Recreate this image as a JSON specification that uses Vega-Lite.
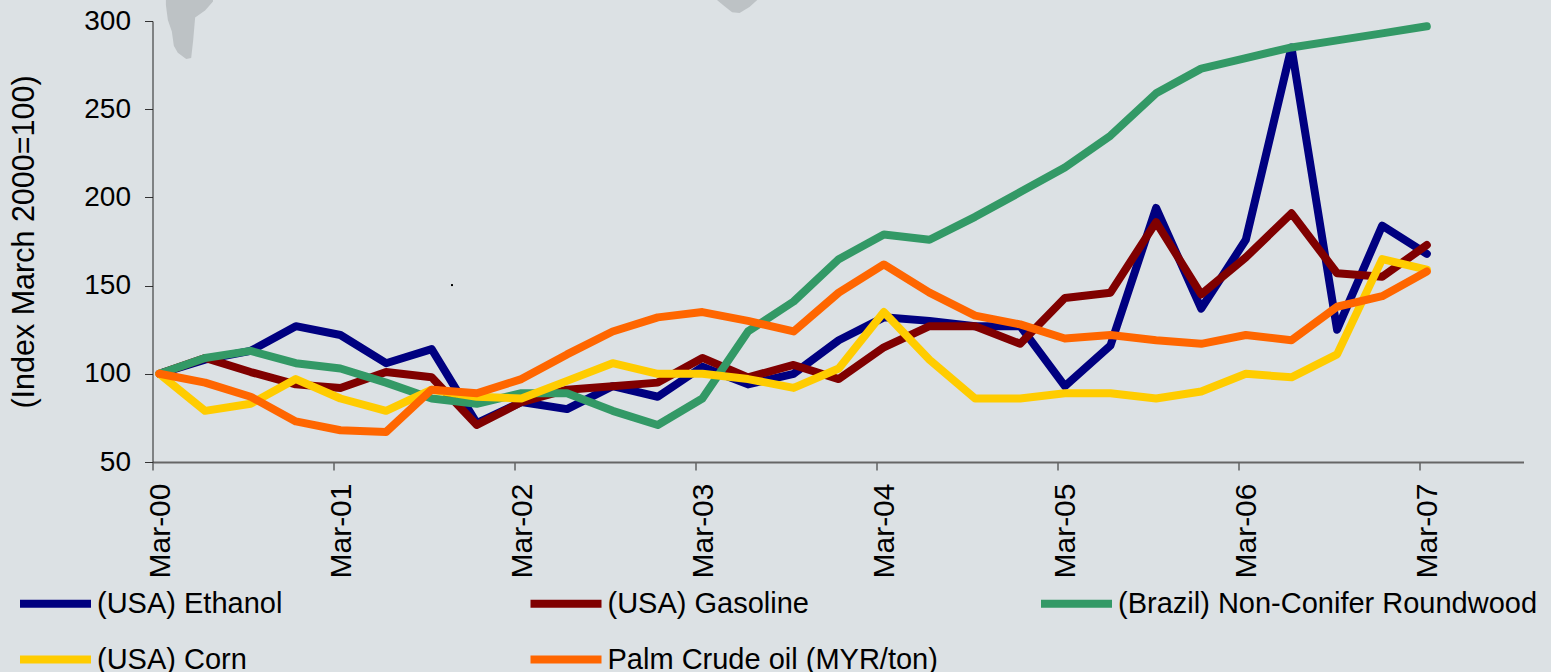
{"$schema":"https://vega.github.io/schema/vega-lite/v6.json","width":1371,"height":441,"autosize":"none","padding":{"left":152.5,"top":21,"right":27.5,"bottom":210},"background":"#dce1e4","config":{"view":{"stroke":null},"font":"Liberation Sans"},
"layer":[
{"data":{"values":[
{"s":"a","d":"2000-03-28","y":309},{"s":"a","d":"2000-04-01","y":300.5},{"s":"a","d":"2000-04-09","y":294},{"s":"a","d":"2000-04-13","y":286},{"s":"a","d":"2000-04-21","y":282},{"s":"a","d":"2000-05-08","y":278.5},{"s":"a","d":"2000-05-18","y":279},{"s":"a","d":"2000-05-22","y":289},{"s":"a","d":"2000-05-26","y":302},{"s":"a","d":"2000-06-15","y":306},{"s":"a","d":"2000-07-01","y":311},
{"s":"b","d":"2003-04-13","y":312},{"s":"b","d":"2003-04-28","y":308.5},{"s":"b","d":"2003-05-14","y":305},{"s":"b","d":"2003-05-29","y":304.5},{"s":"b","d":"2003-06-18","y":308},{"s":"b","d":"2003-07-04","y":312}
]},"mark":{"type":"area","color":"#bdc2c5","clip":false},"encoding":{"x":{"field":"d","type":"temporal"},"y":{"field":"y","type":"quantitative"},"y2":{"datum":312},"detail":{"field":"s"}}},
{"data":{"values":[{"d":"2001-10-26","y":150.3}]},"mark":{"type":"square","color":"#000000","size":4,"opacity":1},"encoding":{"x":{"field":"d","type":"temporal"},"y":{"field":"y","type":"quantitative"}}},
{"data":{"values":[
{"q":"2000-03-15","Ethanol":100,"Gasoline":100,"Wood":100,"Corn":100,"Palm":100},
{"q":"2000-06-15","Ethanol":108,"Gasoline":109,"Wood":109,"Corn":79,"Palm":95},
{"q":"2000-09-15","Ethanol":113,"Gasoline":101,"Wood":113,"Corn":83,"Palm":87},
{"q":"2000-12-15","Ethanol":127,"Gasoline":94,"Wood":106,"Corn":97,"Palm":73},
{"q":"2001-03-15","Ethanol":122,"Gasoline":92,"Wood":103,"Corn":86,"Palm":68},
{"q":"2001-06-15","Ethanol":106,"Gasoline":101,"Wood":95,"Corn":79,"Palm":67},
{"q":"2001-09-15","Ethanol":114,"Gasoline":98,"Wood":86,"Corn":91,"Palm":91},
{"q":"2001-12-15","Ethanol":72,"Gasoline":71,"Wood":83,"Corn":87,"Palm":89},
{"q":"2002-03-15","Ethanol":84,"Gasoline":84,"Wood":89,"Corn":86,"Palm":97},
{"q":"2002-06-15","Ethanol":80,"Gasoline":91,"Wood":89,"Corn":96,"Palm":111},
{"q":"2002-09-15","Ethanol":93,"Gasoline":93,"Wood":79,"Corn":106,"Palm":124},
{"q":"2002-12-15","Ethanol":87,"Gasoline":95,"Wood":71,"Corn":100,"Palm":132},
{"q":"2003-03-15","Ethanol":104,"Gasoline":109,"Wood":86,"Corn":100,"Palm":135},
{"q":"2003-06-15","Ethanol":94,"Gasoline":98,"Wood":124,"Corn":97,"Palm":130},
{"q":"2003-09-15","Ethanol":100,"Gasoline":105,"Wood":141,"Corn":92,"Palm":124},
{"q":"2003-12-15","Ethanol":119,"Gasoline":97,"Wood":165,"Corn":103,"Palm":146},
{"q":"2004-03-15","Ethanol":132,"Gasoline":115,"Wood":179,"Corn":135,"Palm":162},
{"q":"2004-06-15","Ethanol":130,"Gasoline":127,"Wood":176,"Corn":108,"Palm":146},
{"q":"2004-09-15","Ethanol":127,"Gasoline":127,"Wood":189,"Corn":86,"Palm":133},
{"q":"2004-12-15","Ethanol":127,"Gasoline":117,"Wood":203,"Corn":86,"Palm":128},
{"q":"2005-03-15","Ethanol":93,"Gasoline":143,"Wood":217,"Corn":89,"Palm":120},
{"q":"2005-06-15","Ethanol":116,"Gasoline":146,"Wood":235,"Corn":89,"Palm":122},
{"q":"2005-09-15","Ethanol":194,"Gasoline":186,"Wood":259,"Corn":86,"Palm":119},
{"q":"2005-12-15","Ethanol":137,"Gasoline":145,"Wood":273,"Corn":90,"Palm":117},
{"q":"2006-03-15","Ethanol":176,"Gasoline":166,"Wood":279,"Corn":100,"Palm":122},
{"q":"2006-06-15","Ethanol":285,"Gasoline":191,"Wood":285,"Corn":98,"Palm":119},
{"q":"2006-09-15","Ethanol":125,"Gasoline":157,"Wood":289,"Corn":111,"Palm":138},
{"q":"2006-12-15","Ethanol":184,"Gasoline":155,"Wood":293,"Corn":165,"Palm":144},
{"q":"2007-03-15","Ethanol":168,"Gasoline":173,"Wood":297,"Corn":159,"Palm":158}
]},
"transform":[{"fold":["Ethanol","Gasoline","Wood","Corn","Palm"],"as":["k","v"]},{"lookup":"k","from":{"data":{"values":[{"k":"Ethanol","n":"(USA) Ethanol"},{"k":"Gasoline","n":"(USA) Gasoline"},{"k":"Wood","n":"(Brazil) Non-Conifer Roundwood"},{"k":"Corn","n":"(USA) Corn"},{"k":"Palm","n":"Palm Crude oil (MYR/ton)"}]},"key":"k","fields":["n"]}}],
"mark":{"type":"line","strokeWidth":8,"strokeCap":"round","strokeJoin":"round","clip":false},
"encoding":{
"x":{"field":"q","type":"temporal","title":null,"scale":{"domain":["2000-03-01","2007-09-26"]},"axis":{"values":["2000-03-01","2001-03-01","2002-03-01","2003-03-01","2004-03-01","2005-03-01","2006-03-01","2007-03-01"],"format":"%b-%y","labelAngle":-90,"labelOffset":8,"labelFontSize":30,"labelColor":"#000000","labelPadding":13,"labelOverlap":false,"labelFlush":false,"tickSize":8,"tickColor":"#222222","tickWidth":1,"domainColor":"#666666","domainWidth":2,"grid":false}},
"y":{"field":"v","type":"quantitative","title":"(Index March 2000=100)","scale":{"domain":[50,300],"nice":false,"zero":false},"axis":{"values":[50,100,150,200,250,300],"labelFontSize":28,"labelColor":"#000000","labelPadding":14,"tickSize":8,"tickColor":"#333333","tickWidth":1,"domainColor":"#222222","domainWidth":1,"grid":false,"titleFontSize":30.5,"titleFontWeight":"normal","titleColor":"#000000","titlePadding":44}},
"color":{"field":"n","type":"nominal","scale":{"domain":["(USA) Ethanol","(USA) Gasoline","(Brazil) Non-Conifer Roundwood","(USA) Corn","Palm Crude oil (MYR/ton)"],"range":["#000080","#800000","#339966","#ffcc00","#ff6600"]},"legend":{"title":null,"orient":"none","legendX":-136.5,"legendY":543,"columns":3,"direction":"horizontal","gridAlign":"all","symbolType":"stroke","symbolSize":5041,"symbolStrokeWidth":8,"labelFontSize":29,"labelColor":"#000000","labelOffset":2,"labelLimit":600,"columnPadding":-2.5,"rowPadding":-10}}
}}
]}
